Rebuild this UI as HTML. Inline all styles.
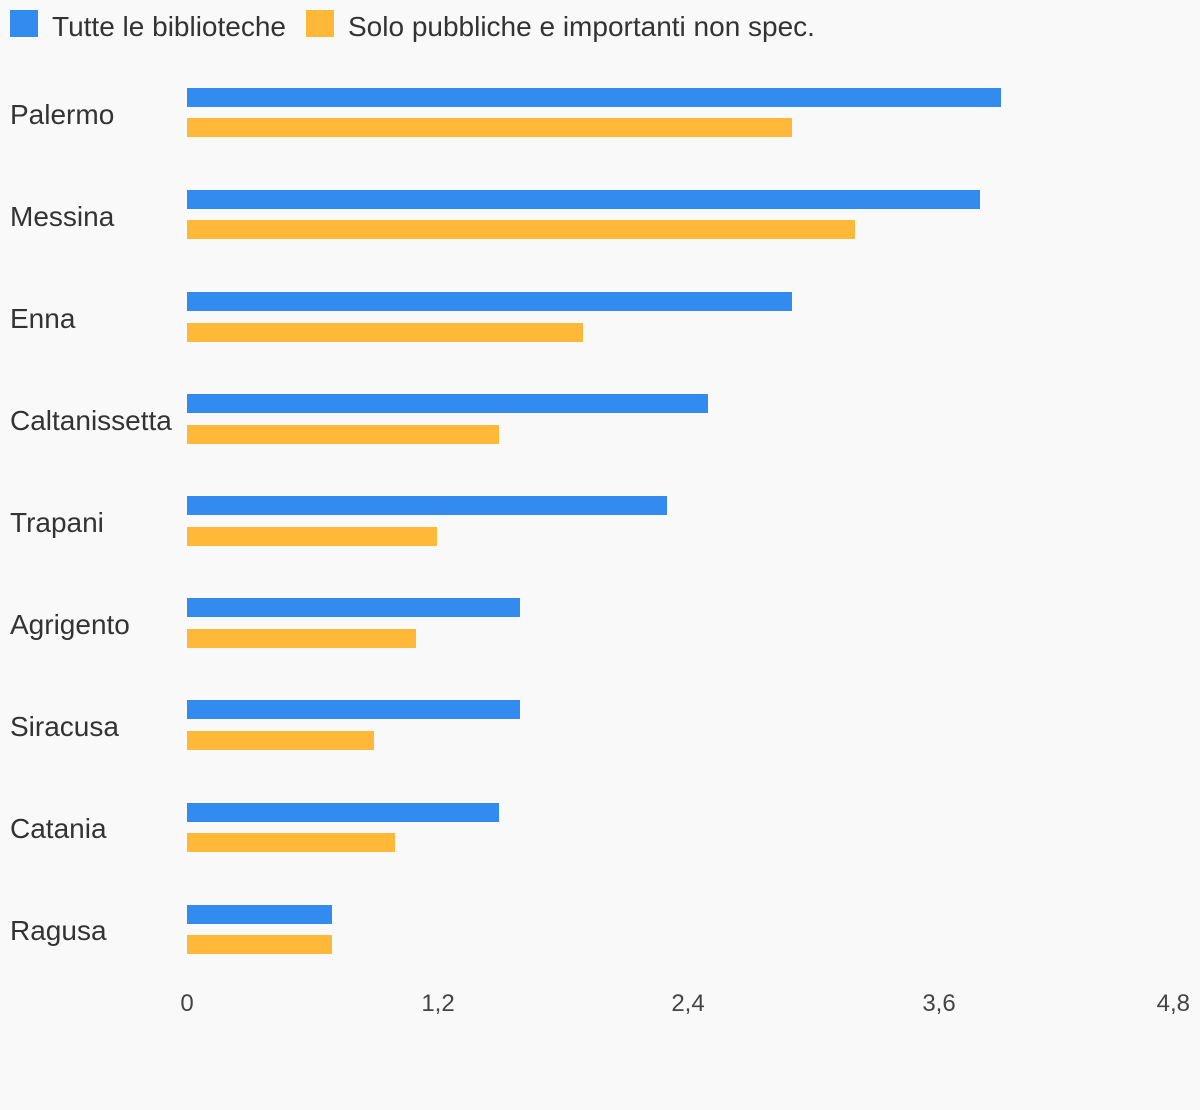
<!DOCTYPE html>
<html><head><style>
body{margin:0;background:#f9f9f9;}
svg{display:block;font-family:"Liberation Sans",sans-serif;}
</style></head><body>
<svg width="1200" height="1110" xmlns="http://www.w3.org/2000/svg">
<rect width="1200" height="1110" fill="#f9f9f9"/>
<rect x="10" y="10" width="28" height="27" fill="#338bef"/>
<text x="52" y="36" font-size="28" fill="#333">Tutte le biblioteche</text>
<rect x="306" y="10" width="28" height="27" fill="#ffb838"/>
<text x="348" y="36" font-size="28" fill="#333">Solo pubbliche e importanti non spec.</text>
<g font-size="28" fill="#333">
<text x="10" y="124">Palermo</text>
<text x="10" y="226">Messina</text>
<text x="10" y="328">Enna</text>
<text x="10" y="430">Caltanissetta</text>
<text x="10" y="532">Trapani</text>
<text x="10" y="634">Agrigento</text>
<text x="10" y="736">Siracusa</text>
<text x="10" y="838">Catania</text>
<text x="10" y="940">Ragusa</text>
</g>
<g fill="#338bef">
<rect x="187" y="88" width="814" height="19"/>
<rect x="187" y="190" width="793" height="19"/>
<rect x="187" y="292" width="605" height="19"/>
<rect x="187" y="394" width="521" height="19"/>
<rect x="187" y="496" width="480" height="19"/>
<rect x="187" y="598" width="333" height="19"/>
<rect x="187" y="700" width="333" height="19"/>
<rect x="187" y="803" width="312" height="19"/>
<rect x="187" y="905" width="145" height="19"/>
</g>
<g fill="#ffb838">
<rect x="187" y="118" width="605" height="19"/>
<rect x="187" y="220" width="668" height="19"/>
<rect x="187" y="323" width="396" height="19"/>
<rect x="187" y="425" width="312" height="19"/>
<rect x="187" y="527" width="250" height="19"/>
<rect x="187" y="629" width="229" height="19"/>
<rect x="187" y="731" width="187" height="19"/>
<rect x="187" y="833" width="208" height="19"/>
<rect x="187" y="935" width="145" height="19"/>
</g>
<g font-size="24" fill="#444" text-anchor="middle">
<text x="187" y="1011">0</text>
<text x="438" y="1011">1,2</text>
<text x="688" y="1011">2,4</text>
<text x="939" y="1011">3,6</text>
<text x="1190" y="1011" text-anchor="end">4,8</text>
</g>
</svg>
</body></html>
